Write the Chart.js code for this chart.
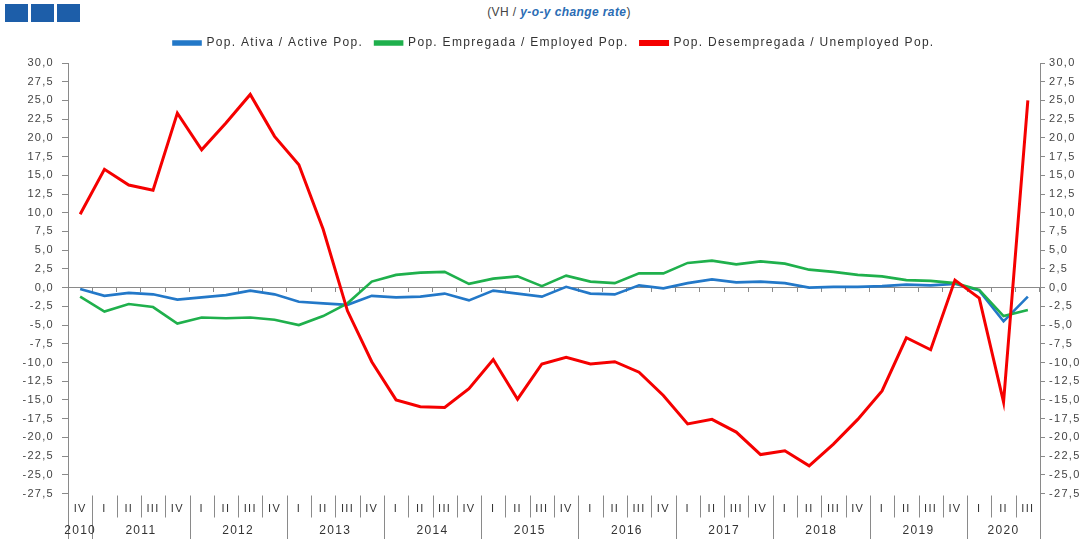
<!DOCTYPE html>
<html>
<head>
<meta charset="utf-8">
<script src="https://cdn.jsdelivr.net/npm/chart.js@4.4.1/dist/chart.umd.min.js"></script>
<style>
  html, body { margin: 0; padding: 0; background: #fff; }
  #wrap { position: relative; width: 1087px; height: 539px; overflow: hidden; }
  #chart { position: absolute; left: 0; top: 0; }
  .logo { position: absolute; top: 4px; width: 23px; height: 18px; background: #1d5ea9; }
  #sub { position: absolute; top: 5px; left: 0; width: 1118px; text-align: center;
         font: 12px "Liberation Sans", Arial, sans-serif; color: #444; letter-spacing: 0.4px; }
  #sub em { color: #2a6cb4; font-weight: bold; }
</style>
</head>
<body>
<div id="wrap">
  <div class="logo" style="left:5px"></div>
  <div class="logo" style="left:31px"></div>
  <div class="logo" style="left:57px"></div>
  <div id="sub">(VH / <em>y-o-y change rate</em>)</div>
  <canvas id="chart" width="1087" height="539"></canvas>
</div>
<script>
// quarters 2010 IV .. 2020 III
const quarters = ['IV',
  'I','II','III','IV', 'I','II','III','IV', 'I','II','III','IV',
  'I','II','III','IV', 'I','II','III','IV', 'I','II','III','IV',
  'I','II','III','IV', 'I','II','III','IV', 'I','II','III','IV',
  'I','II','III'];
const years = ['2010','2011','2012','2013','2014','2015','2016','2017','2018','2019','2020'];

const active = [-0.2,-1.1,-0.7,-0.9,-1.6,-1.3,-1.0,-0.4,-0.9,-1.9,-2.1,-2.3,-1.1,-1.3,-1.2,-0.8,
  -1.7,-0.4,-0.8,-1.2,0.1,-0.8,-0.9,0.3,-0.1,0.6,1.1,0.7,0.8,0.6,0.0,0.1,0.1,0.2,0.4,0.3,0.5,-0.4,-4.5,-1.2];
const employed = [-1.2,-3.2,-2.2,-2.6,-4.8,-4.0,-4.1,-4.0,-4.3,-5.0,-3.8,-2.1,0.8,1.7,2.0,2.1,
  0.5,1.2,1.5,0.2,1.6,0.8,0.6,1.9,1.9,3.3,3.6,3.1,3.5,3.2,2.4,2.1,1.7,1.5,1.0,0.9,0.6,-0.3,-3.8,-3.0];
const unemployed = [9.8,15.8,13.7,13.0,23.3,18.4,22.0,25.8,20.2,16.4,7.8,-3.1,-9.9,-15.0,-15.9,-16.0,
  -13.5,-9.6,-14.9,-10.2,-9.3,-10.2,-9.9,-11.3,-14.4,-18.2,-17.6,-19.3,-22.3,-21.8,-23.8,-20.9,-17.6,-13.8,-6.7,-8.3,1.0,-1.4,-15.3,25.0];

const yMin = -27.5, yMax = 30, yStep = 2.5;

const FONT = { family: '"Liberation Sans", Arial, sans-serif', size: 11 };
const AXIS = '#8a8a8a';
const fmt = v => v.toFixed(1).replace('.', ',');

// spacing of the original labels is quite wide
const spacing = {
  id: 'spacing',
  beforeLayout(chart) { chart.ctx.letterSpacing = '1.3px'; },
  beforeDraw(chart) { chart.ctx.letterSpacing = '1.3px'; }
};

// push the plot a bit lower under the legend
const legendFit = {
  id: 'legendFit',
  beforeInit(chart) {
    const lg = chart.legend;
    const fit = lg.fit;
    lg.fit = function () { fit.call(this); this.height += 4; };
  }
};

// quarter/year separators, year labels and axis extensions below the plot
const bands = {
  id: 'bands',
  afterDraw(chart) {
    const { ctx, chartArea, scales: { x } } = chart;
    const H = chart.height;
    const step = x.getPixelForValue(1) - x.getPixelForValue(0);
    const top = chartArea.bottom + 2;
    ctx.save();
    ctx.strokeStyle = AXIS;
    ctx.lineWidth = 1;
    ctx.beginPath();
    [chartArea.left, chartArea.right].forEach(px => {
      const p = Math.round(px) + 0.5;
      ctx.moveTo(p, chartArea.bottom); ctx.lineTo(p, H);
    });
    quarters.forEach((q, i) => {
      if (i === 0) return;
      const p = Math.round(x.getPixelForValue(i) - step / 2) + 0.5;
      ctx.moveTo(p, top);
      ctx.lineTo(p, q === 'I' ? H : top + 22);
    });
    ctx.stroke();

    ctx.fillStyle = '#333';
    ctx.font = '12px ' + FONT.family;
    ctx.textAlign = 'center';
    ctx.textBaseline = 'middle';
    let start = 0, y = 0;
    quarters.forEach((q, i) => {
      const last = i === quarters.length - 1 || quarters[i + 1] === 'I';
      if (last) {
        const cx = (x.getPixelForValue(start) + x.getPixelForValue(i)) / 2;
        ctx.fillText(years[y], cx, chartArea.bottom + 37);
        y++;
        start = i + 1;
      }
    });
    ctx.restore();
  }
};

const ctx = document.getElementById('chart');
new Chart(ctx, {
  type: 'line',
  data: {
    labels: quarters,
    datasets: [
      { label: 'Pop. Ativa / Active Pop.', data: active, borderColor: '#2378c8', backgroundColor: '#2378c8',
        borderWidth: 2.6, order: 2, xAxisID: 'x', yAxisID: 'y' },
      { label: 'Pop. Empregada / Employed Pop.', data: employed, borderColor: '#1fb04c', backgroundColor: '#1fb04c',
        borderWidth: 2.6, order: 1, xAxisID: 'x', yAxisID: 'y' },
      { label: 'Pop. Desempregada / Unemployed Pop.', data: unemployed, borderColor: '#f50000', backgroundColor: '#f50000',
        borderWidth: 3, order: 0, xAxisID: 'x', yAxisID: 'y' }
    ]
  },
  options: {
    responsive: false,
    animation: false,
    layout: { padding: { top: 25, left: 0, right: 0, bottom: 0 } },
    elements: { point: { radius: 0 }, line: { tension: 0 } },
    plugins: {
      legend: {
        position: 'top',
        fullSize: false,
        labels: {
          boxWidth: 27, boxHeight: 3, padding: 12, color: '#333',
          font: { family: FONT.family, size: 12 },
          sort: (a, b) => a.datasetIndex - b.datasetIndex
        }
      },
      tooltip: { enabled: false }
    },
    scales: {
      x: {
        position: 'bottom',
        offset: true,
        grid: { display: false, drawTicks: false },
        border: { display: false },
        ticks: { autoSkip: false, maxRotation: 0, padding: 9, color: '#333', font: FONT },
        afterFit(s) { s.height = 45.5; }
      },
      xZero: {
        type: 'category',
        axis: 'x',
        position: { y: 0 },
        offset: true,
        ticks: { display: false },
        grid: { offset: true, drawOnChartArea: false, tickLength: 4, color: AXIS },
        border: { color: AXIS }
      },
      y: {
        position: 'left',
        min: yMin, max: yMax,
        ticks: { stepSize: yStep, callback: fmt, padding: 8, color: '#444', font: FONT },
        grid: { drawOnChartArea: false, tickLength: 6, color: AXIS },
        border: { color: AXIS },
        afterFit(s) { s.width = 68; }
      },
      y2: {
        position: 'right',
        min: yMin, max: yMax,
        ticks: { stepSize: yStep, callback: fmt, padding: 4, color: '#444', font: FONT },
        grid: { drawOnChartArea: false, tickLength: 5, color: AXIS },
        border: { color: AXIS },
        afterFit(s) { s.width = 47; }
      }
    }
  },
  plugins: [spacing, legendFit, bands]
});
</script>
</body>
</html>
